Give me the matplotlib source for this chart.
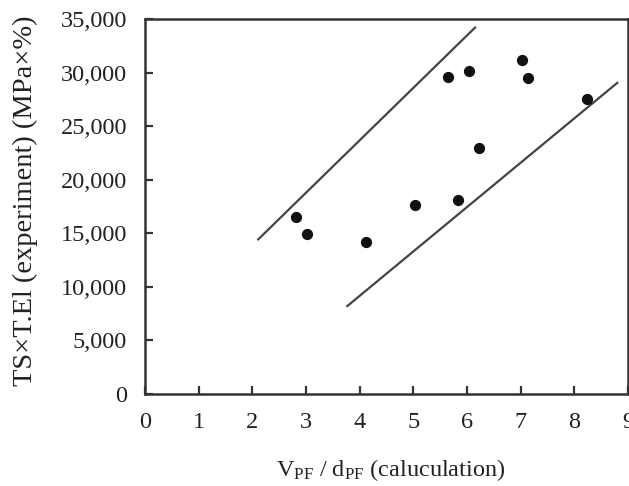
import matplotlib
matplotlib.use("Agg")
import matplotlib.pyplot as plt
from matplotlib.ticker import FuncFormatter

plt.rcParams['font.family'] = ['Liberation Serif', 'DejaVu Serif']
plt.rcParams['mathtext.fontset'] = 'custom'
plt.rcParams['mathtext.rm'] = 'Liberation Serif'
plt.rcParams['mathtext.it'] = 'Liberation Serif:italic'

# data
x_vals = [2.82, 3.01, 4.12, 5.03, 5.64, 5.84, 6.03, 6.22, 7.03, 7.13, 8.23]
y_vals = [16480, 14900, 14150, 17600, 29550, 18070, 30130, 22920, 31130, 29510, 27520]
upper_line_x = [2.11, 6.15]
upper_line_y = [14430, 34200]
lower_line_x = [3.77, 8.80]
lower_line_y = [8210, 29040]
x_ticks = [0, 1, 2, 3, 4, 5, 6, 7, 8, 9]
y_ticks = [0, 5000, 10000, 15000, 20000, 25000, 30000, 35000]

fig = plt.figure(figsize=(6.29, 4.86), dpi=100)
ax = fig.add_axes([145/629, 92/486, 483/629, 375/486])

ax.plot(upper_line_x, upper_line_y, color='#444444', lw=1.6)
ax.plot(lower_line_x, lower_line_y, color='#444444', lw=1.6)
ax.scatter(x_vals, y_vals, s=50, color='#111111', zorder=3)

ax.set_xlim(0, 9)
ax.set_ylim(0, 35000)
ax.set_xticks(x_ticks)
ax.set_yticks(y_ticks)
ax.yaxis.set_major_formatter(FuncFormatter(lambda v, p: f"{int(v):,}"))

for s in ax.spines.values():
    s.set_linewidth(1.8)
    s.set_color('#333333')
ax.tick_params(direction='in', length=6, width=1.6, color='#333333',
               labelsize=17.5, labelcolor='#222222')
ax.tick_params(axis='y', pad=13)
ax.tick_params(axis='x', pad=13)

fig.text(25/629, 1 - 201/486, 'TS×T.El (experiment) (MPa×%)', rotation=90,
         ha='center', va='center', fontsize=20.5, color='#222222')
fig.text(391/629, 1 - 470/486, r'V$_{\mathrm{PF}}$ / d$_{\mathrm{PF}}$ (caluculation)',
         ha='center', va='center', fontsize=17.5, color='#222222')

fig.savefig('out.png', dpi=100)
